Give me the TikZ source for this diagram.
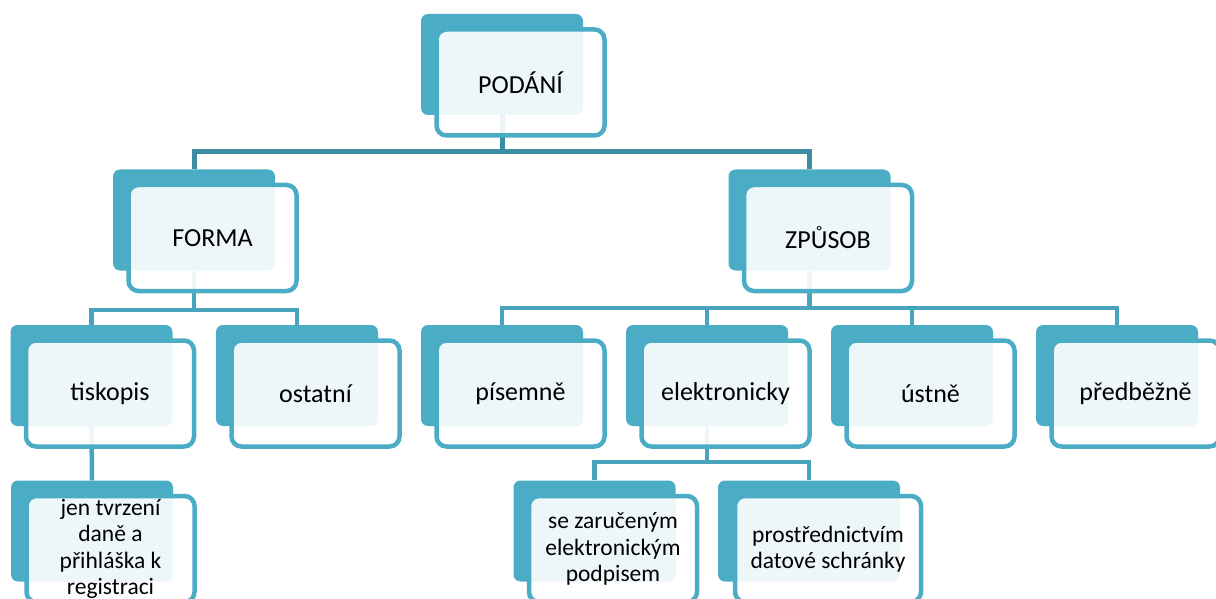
\documentclass[tikz,border=0pt]{standalone}
\usepackage{fontspec}
\setmainfont{Carlito}
\definecolor{modra}{HTML}{4BACC6}
\definecolor{linka}{HTML}{49A4BD}
\definecolor{linkatmava}{HTML}{3D8CA2}
\tikzset{
  zadni/.style={fill=modra, rounded corners=7pt, minimum width=162pt, minimum height=101pt, inner sep=0pt},
  predni/.style={draw=modra, line width=4.5pt, fill=white, fill opacity=0.9, text opacity=1, rounded corners=10pt,
    minimum width=168pt, minimum height=106pt, inner sep=2pt, align=center, font=\fontsize{26}{31}\selectfont},
  maly/.style={inner sep=0pt, font=\fontsize{23.5}{26.5}\selectfont},
  spoj/.style={draw=linka, line width=4.5pt}
}
\begin{document}
\begin{tikzpicture}[x=1pt, y=-1pt]
\clip (0,0) rectangle (1216,599);
% zadni obdelniky
\node[zadni] (podani) at (502,64.5) {};
\node[zadni] (forma) at (194,220) {};
\node[zadni] (zpusob) at (809.5,220) {};
\node[zadni] (tiskopis) at (91.5,375.5) {};
\node[zadni] (ostatni) at (297,375.5) {};
\node[zadni] (pisemne) at (502,375.5) {};
\node[zadni] (elektronicky) at (707,375.5) {};
\node[zadni] (ustne) at (912,375.5) {};
\node[zadni] (predbezne) at (1117,375.5) {};
\node[zadni] (jen) at (92,531) {};
\node[zadni] (zarucenym) at (594.5,531) {};
\node[zadni, minimum width=182pt] (schranky) at (809,531) {};
% spojnice
\coordinate (sbernice1) at (0,152);
\coordinate (sbernice2) at (0,310);
\coordinate (sbernice3) at (0,308);
\coordinate (sbernice4) at (0,462);
\draw[spoj, draw=linkatmava, line width=5pt] (podani.south) -- (podani.south |- sbernice1) -| (forma.north);
\draw[spoj, draw=linkatmava, line width=5pt] (podani.south |- sbernice1) -| (zpusob.north);
\draw[spoj] (forma.south) -- (forma.south |- sbernice2) -| (tiskopis.north);
\draw[spoj] (forma.south |- sbernice2) -| (ostatni.north);
\draw[spoj] (zpusob.south) -- (zpusob.south |- sbernice3) -| (pisemne.north);
\draw[spoj] (zpusob.south |- sbernice3) -| (elektronicky.north);
\draw[spoj] (zpusob.south |- sbernice3) -| (ustne.north);
\draw[spoj] (zpusob.south |- sbernice3) -| (predbezne.north);
\draw[spoj] (tiskopis.south) -- (jen.north);
\draw[spoj] (elektronicky.south) -- (elektronicky.south |- sbernice4) -| (zarucenym.north);
\draw[spoj] (elektronicky.south |- sbernice4) -| (schranky.north);
% predni ramecky s textem
\node[predni] (podaniP) at ([shift={(18.5,18)}]podani.center) {PODÁNÍ};
\node[predni] (formaP) at ([shift={(18.5,18)}]forma.center) {FORMA};
\node[predni] (zpusobP) at ([shift={(18.5,18)}]zpusob.center) {ZPŮSOB};
\node[predni] (tiskopisP) at ([shift={(18.5,18)}]tiskopis.center) {tiskopis};
\node[predni] (ostatniP) at ([shift={(18.5,18)}]ostatni.center) {ostatní};
\node[predni] (pisemneP) at ([shift={(18.5,18)}]pisemne.center) {písemně};
\node[predni] (elektronickyP) at ([shift={(18.5,18)}]elektronicky.center) {elektronicky};
\node[predni] (ustneP) at ([shift={(18.5,18)}]ustne.center) {ústně};
\node[predni] (predbezneP) at ([shift={(18.5,18)}]predbezne.center) {předběžně};
\node[predni, maly] (jenP) at ([shift={(18.5,18)}]jen.center) {jen tvrzení\\daně a\\přihláška k\\registraci};
\node[predni, maly] (zarucenymP) at ([shift={(18.5,18)}]zarucenym.center) {se zaručeným\\elektronickým\\podpisem};
\node[predni, maly, minimum width=186pt] (schrankyP) at ([shift={(19,18)}]schranky.center) {prostřednictvím\\datové schránky};
\end{tikzpicture}
\end{document}
